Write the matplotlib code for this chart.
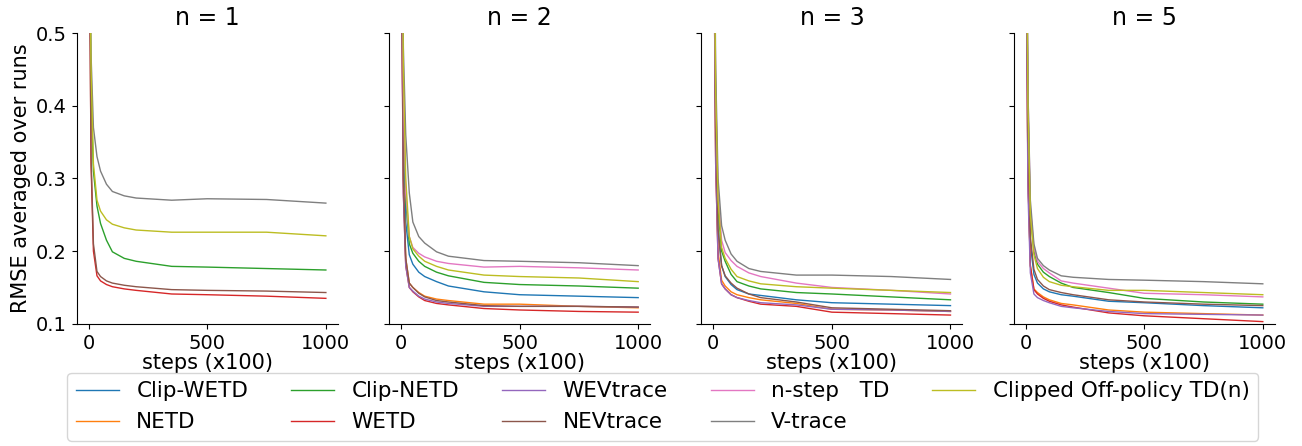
import matplotlib
matplotlib.use("Agg")
import matplotlib.pyplot as plt
import numpy as np

steps = [0, 5, 10, 20, 35, 50, 75, 100, 150, 200, 350, 500, 750, 1000]

methods = ["Clip-WETD", "NETD", "Clip-NETD", "WETD", "WEVtrace",
           "NEVtrace", "n-step   TD", "V-trace", "Clipped Off-policy TD(n)"]
panel_titles = ["n = 1", "n = 2", "n = 3", "n = 5"]

# n = 1 (Clip-WETD, NETD, WEVtrace and n-step TD are not visible here)
n1_clip_wetd = None
n1_netd      = None
n1_clip_netd = [1.0, 0.60, 0.42, 0.31, 0.262, 0.238, 0.215, 0.199, 0.190, 0.186, 0.179, 0.178, 0.176, 0.174]
n1_wetd      = [1.0, 0.55, 0.32, 0.20, 0.166, 0.159, 0.154, 0.151, 0.148, 0.146, 0.141, 0.140, 0.138, 0.135]
n1_wevtrace  = None
n1_nevtrace  = [1.0, 0.55, 0.33, 0.21, 0.172, 0.165, 0.159, 0.156, 0.153, 0.151, 0.147, 0.146, 0.145, 0.143]
n1_nstep_td  = None
n1_vtrace    = [1.0, 0.62, 0.47, 0.37, 0.330, 0.310, 0.292, 0.282, 0.276, 0.273, 0.270, 0.272, 0.271, 0.266]
n1_clip_td   = [1.0, 0.62, 0.45, 0.32, 0.270, 0.255, 0.243, 0.237, 0.232, 0.229, 0.226, 0.226, 0.226, 0.221]

# n = 2
n2_clip_wetd = [1.0, 0.58, 0.36, 0.24, 0.195, 0.182, 0.171, 0.165, 0.158, 0.152, 0.144, 0.140, 0.138, 0.136]
n2_netd      = [1.0, 0.50, 0.30, 0.19, 0.156, 0.150, 0.143, 0.138, 0.134, 0.132, 0.127, 0.127, 0.124, 0.122]
n2_clip_netd = [1.0, 0.60, 0.40, 0.27, 0.210, 0.197, 0.186, 0.179, 0.171, 0.166, 0.157, 0.154, 0.152, 0.149]
n2_wetd      = [1.0, 0.48, 0.28, 0.18, 0.150, 0.144, 0.137, 0.132, 0.128, 0.126, 0.121, 0.119, 0.117, 0.116]
n2_wevtrace  = [1.0, 0.48, 0.28, 0.18, 0.150, 0.145, 0.138, 0.134, 0.130, 0.128, 0.124, 0.124, 0.124, 0.123]
n2_nevtrace  = [1.0, 0.50, 0.30, 0.19, 0.156, 0.150, 0.142, 0.137, 0.132, 0.130, 0.125, 0.124, 0.124, 0.123]
n2_nstep_td  = [1.0, 0.62, 0.42, 0.28, 0.220, 0.205, 0.197, 0.192, 0.186, 0.183, 0.178, 0.179, 0.177, 0.174]
n2_vtrace    = [1.0, 0.65, 0.48, 0.36, 0.280, 0.240, 0.220, 0.211, 0.199, 0.193, 0.187, 0.186, 0.184, 0.180]
n2_clip_td   = [1.0, 0.65, 0.45, 0.30, 0.220, 0.203, 0.193, 0.186, 0.179, 0.174, 0.167, 0.165, 0.163, 0.158]

# n = 3
n3_clip_wetd = [1.0, 0.58, 0.37, 0.23, 0.180, 0.165, 0.154, 0.147, 0.141, 0.139, 0.133, 0.129, 0.127, 0.125]
n3_netd      = [1.0, 0.55, 0.33, 0.20, 0.160, 0.152, 0.144, 0.140, 0.136, 0.133, 0.128, 0.120, 0.119, 0.117]
n3_clip_netd = [1.0, 0.60, 0.40, 0.26, 0.200, 0.186, 0.168, 0.158, 0.152, 0.148, 0.143, 0.141, 0.137, 0.133]
n3_wetd      = [1.0, 0.53, 0.32, 0.19, 0.155, 0.148, 0.140, 0.136, 0.131, 0.127, 0.124, 0.116, 0.114, 0.112]
n3_wevtrace  = [1.0, 0.53, 0.32, 0.19, 0.155, 0.148, 0.140, 0.136, 0.132, 0.129, 0.126, 0.120, 0.119, 0.117]
n3_nevtrace  = [1.0, 0.58, 0.37, 0.23, 0.180, 0.166, 0.156, 0.149, 0.141, 0.136, 0.130, 0.122, 0.120, 0.118]
n3_nstep_td  = [1.0, 0.62, 0.42, 0.28, 0.215, 0.198, 0.187, 0.179, 0.170, 0.165, 0.156, 0.150, 0.146, 0.141]
n3_vtrace    = [1.0, 0.65, 0.45, 0.30, 0.235, 0.215, 0.196, 0.186, 0.176, 0.172, 0.167, 0.167, 0.165, 0.161]
n3_clip_td   = [1.0, 0.62, 0.42, 0.27, 0.205, 0.190, 0.175, 0.165, 0.159, 0.155, 0.151, 0.149, 0.146, 0.143]

# n = 5
n5_clip_wetd = [1.0, 0.58, 0.36, 0.21, 0.168, 0.156, 0.148, 0.144, 0.140, 0.138, 0.131, 0.129, 0.125, 0.122]
n5_netd      = [1.0, 0.50, 0.30, 0.18, 0.148, 0.143, 0.137, 0.133, 0.128, 0.126, 0.119, 0.116, 0.114, 0.112]
n5_clip_netd = [1.0, 0.60, 0.40, 0.25, 0.200, 0.182, 0.171, 0.165, 0.156, 0.150, 0.143, 0.135, 0.130, 0.127]
n5_wetd      = [1.0, 0.50, 0.30, 0.18, 0.147, 0.141, 0.135, 0.131, 0.126, 0.123, 0.115, 0.111, 0.107, 0.103]
n5_wevtrace  = [1.0, 0.48, 0.28, 0.17, 0.141, 0.136, 0.132, 0.129, 0.124, 0.122, 0.117, 0.114, 0.113, 0.112]
n5_nevtrace  = [1.0, 0.58, 0.37, 0.22, 0.175, 0.161, 0.152, 0.147, 0.143, 0.140, 0.133, 0.130, 0.127, 0.125]
n5_nstep_td  = [1.0, 0.62, 0.42, 0.26, 0.205, 0.186, 0.176, 0.170, 0.159, 0.156, 0.149, 0.142, 0.140, 0.137]
n5_vtrace    = [1.0, 0.62, 0.42, 0.27, 0.210, 0.190, 0.180, 0.174, 0.166, 0.164, 0.161, 0.160, 0.158, 0.155]
n5_clip_td   = [1.0, 0.60, 0.40, 0.25, 0.195, 0.176, 0.164, 0.158, 0.153, 0.151, 0.146, 0.146, 0.143, 0.140]

panels = [
    [n1_clip_wetd, n1_netd, n1_clip_netd, n1_wetd, n1_wevtrace, n1_nevtrace, n1_nstep_td, n1_vtrace, n1_clip_td],
    [n2_clip_wetd, n2_netd, n2_clip_netd, n2_wetd, n2_wevtrace, n2_nevtrace, n2_nstep_td, n2_vtrace, n2_clip_td],
    [n3_clip_wetd, n3_netd, n3_clip_netd, n3_wetd, n3_wevtrace, n3_nevtrace, n3_nstep_td, n3_vtrace, n3_clip_td],
    [n5_clip_wetd, n5_netd, n5_clip_netd, n5_wetd, n5_wevtrace, n5_nevtrace, n5_nstep_td, n5_vtrace, n5_clip_td],
]

colors = plt.rcParams['axes.prop_cycle'].by_key()['color']

fig, axes = plt.subplots(1, 4, figsize=(13.02, 4.46), dpi=100, sharey=True)
fig.subplots_adjust(left=0.059, right=0.979, top=0.926, bottom=0.274, wspace=0.197)

for ax, title, curves in zip(axes, panel_titles, panels):
    for i, (name, vals) in enumerate(zip(methods, curves)):
        if vals is None:
            continue
        ax.plot(steps, vals, color=colors[i], lw=1.0, label=name)
    ax.set_title(title, fontsize=17)
    ax.set_xlabel("steps (x100)", fontsize=15, labelpad=0)
    ax.set_xlim(-50, 1050)
    ax.set_xticks([0, 500, 1000])
    ax.set_ylim(0.1, 0.5)
    ax.set_yticks([0.1, 0.2, 0.3, 0.4, 0.5])
    ax.tick_params(labelsize=14)
    ax.spines['top'].set_visible(False)
    ax.spines['right'].set_visible(False)

axes[0].set_ylabel("RMSE averaged over runs", fontsize=15)

handles, labels = axes[1].get_legend_handles_labels()
fig.legend(handles, labels, loc='upper center', bbox_to_anchor=(0.509, 0.174),
           ncol=5, fontsize=15.5, borderaxespad=0.2)

plt.savefig("out.png", dpi=100)
